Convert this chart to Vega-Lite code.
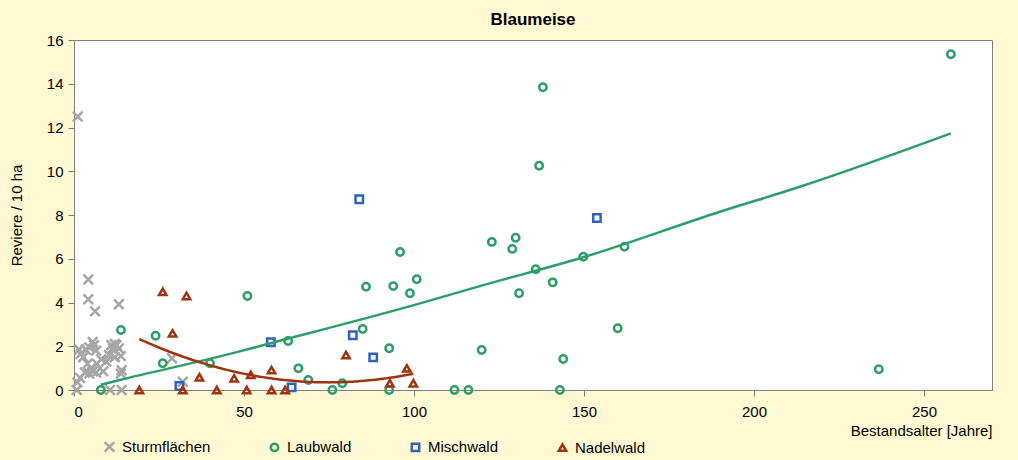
{
  "$schema": "https://vega.github.io/schema/vega-lite/v6.json",
  "autosize": "none",
  "width": 918,
  "height": 350,
  "padding": {"left": 74, "top": 40, "right": 26, "bottom": 70},
  "background": "#FFF9D3",
  "title": {"text": "Blaumeise", "fontSize": 17, "font": "Liberation Sans", "fontWeight": "bold", "color": "#000000", "offset": 4, "anchor": "middle"},
  "config": {
    "view": {"fill": "white", "stroke": "#808080", "strokeWidth": 1},
    "font": "Liberation Sans",
    "axis": {"labelFont": "Liberation Sans", "titleFont": "Liberation Sans", "labelFontSize": 15, "titleFontSize": 15, "titleFontWeight": "normal", "labelColor": "#000", "titleColor": "#000", "domainColor": "#808080", "tickColor": "#808080", "grid": false, "tickSize": 6}
  },
  "datasets": {
    "trend": [
      {"Alter": 7.9, "Reviere": 0.24},
      {"Alter": 13.5, "Reviere": 0.46},
      {"Alter": 45.9, "Reviere": 1.65},
      {"Alter": 54.7, "Reviere": 2.01},
      {"Alter": 101.8, "Reviere": 3.96},
      {"Alter": 119.4, "Reviere": 4.75},
      {"Alter": 150, "Reviere": 6.08},
      {"Alter": 190, "Reviere": 8.15},
      {"Alter": 213.5, "Reviere": 9.29},
      {"Alter": 257.9, "Reviere": 11.73}
    ]
  },
  "data": {"values": [
    {"Typ": "Sturmflächen", "Alter": 1.1, "Reviere": 12.5},
    {"Typ": "Sturmflächen", "Alter": 4.2, "Reviere": 5.05},
    {"Typ": "Sturmflächen", "Alter": 4.2, "Reviere": 4.15},
    {"Typ": "Sturmflächen", "Alter": 6.2, "Reviere": 3.6},
    {"Typ": "Sturmflächen", "Alter": 13.2, "Reviere": 3.92},
    {"Typ": "Sturmflächen", "Alter": 1.5, "Reviere": 1.85},
    {"Typ": "Sturmflächen", "Alter": 2.0, "Reviere": 1.65},
    {"Typ": "Sturmflächen", "Alter": 2.7, "Reviere": 1.5},
    {"Typ": "Sturmflächen", "Alter": 3.5, "Reviere": 1.85},
    {"Typ": "Sturmflächen", "Alter": 4.5, "Reviere": 1.95},
    {"Typ": "Sturmflächen", "Alter": 5.5, "Reviere": 2.2},
    {"Typ": "Sturmflächen", "Alter": 5.9, "Reviere": 2.05},
    {"Typ": "Sturmflächen", "Alter": 6.5, "Reviere": 1.8},
    {"Typ": "Sturmflächen", "Alter": 4.0, "Reviere": 1.2},
    {"Typ": "Sturmflächen", "Alter": 5.0, "Reviere": 1.0},
    {"Typ": "Sturmflächen", "Alter": 6.7, "Reviere": 1.2},
    {"Typ": "Sturmflächen", "Alter": 3.2, "Reviere": 0.8},
    {"Typ": "Sturmflächen", "Alter": 4.5, "Reviere": 0.75},
    {"Typ": "Sturmflächen", "Alter": 5.5, "Reviere": 0.85},
    {"Typ": "Sturmflächen", "Alter": 6.5, "Reviere": 0.8},
    {"Typ": "Sturmflächen", "Alter": 8.0, "Reviere": 1.4},
    {"Typ": "Sturmflächen", "Alter": 8.6, "Reviere": 0.85},
    {"Typ": "Sturmflächen", "Alter": 9.5, "Reviere": 1.3},
    {"Typ": "Sturmflächen", "Alter": 10.3, "Reviere": 1.6},
    {"Typ": "Sturmflächen", "Alter": 11.0, "Reviere": 2.05},
    {"Typ": "Sturmflächen", "Alter": 11.5, "Reviere": 1.9},
    {"Typ": "Sturmflächen", "Alter": 12.0, "Reviere": 2.1},
    {"Typ": "Sturmflächen", "Alter": 12.5, "Reviere": 2.05},
    {"Typ": "Sturmflächen", "Alter": 13.2, "Reviere": 1.9},
    {"Typ": "Sturmflächen", "Alter": 12.0, "Reviere": 1.5},
    {"Typ": "Sturmflächen", "Alter": 13.8, "Reviere": 1.55},
    {"Typ": "Sturmflächen", "Alter": 14.0, "Reviere": 0.9},
    {"Typ": "Sturmflächen", "Alter": 13.8, "Reviere": 0.75},
    {"Typ": "Sturmflächen", "Alter": 1.0, "Reviere": 0.35},
    {"Typ": "Sturmflächen", "Alter": 1.8, "Reviere": 0.55},
    {"Typ": "Sturmflächen", "Alter": 0.8, "Reviere": 0},
    {"Typ": "Sturmflächen", "Alter": 10.6, "Reviere": 0},
    {"Typ": "Sturmflächen", "Alter": 14.0, "Reviere": 0},
    {"Typ": "Sturmflächen", "Alter": 28.8, "Reviere": 1.45},
    {"Typ": "Sturmflächen", "Alter": 32.0, "Reviere": 0.38},
    {"Typ": "Laubwald", "Alter": 7.9, "Reviere": 0},
    {"Typ": "Laubwald", "Alter": 13.8, "Reviere": 2.74},
    {"Typ": "Laubwald", "Alter": 24.0, "Reviere": 2.48},
    {"Typ": "Laubwald", "Alter": 26.1, "Reviere": 1.22},
    {"Typ": "Laubwald", "Alter": 40.0, "Reviere": 1.22},
    {"Typ": "Laubwald", "Alter": 51.0, "Reviere": 4.3},
    {"Typ": "Laubwald", "Alter": 63.0, "Reviere": 2.24},
    {"Typ": "Laubwald", "Alter": 66.0, "Reviere": 0.99},
    {"Typ": "Laubwald", "Alter": 68.9, "Reviere": 0.46},
    {"Typ": "Laubwald", "Alter": 76.0, "Reviere": 0},
    {"Typ": "Laubwald", "Alter": 78.9, "Reviere": 0.31},
    {"Typ": "Laubwald", "Alter": 85.9, "Reviere": 4.72},
    {"Typ": "Laubwald", "Alter": 84.9, "Reviere": 2.79},
    {"Typ": "Laubwald", "Alter": 93.9, "Reviere": 4.75},
    {"Typ": "Laubwald", "Alter": 98.8, "Reviere": 4.42},
    {"Typ": "Laubwald", "Alter": 100.8, "Reviere": 5.06},
    {"Typ": "Laubwald", "Alter": 92.7, "Reviere": 1.91},
    {"Typ": "Laubwald", "Alter": 92.7, "Reviere": 0},
    {"Typ": "Laubwald", "Alter": 95.9, "Reviere": 6.31},
    {"Typ": "Laubwald", "Alter": 137.9, "Reviere": 13.84},
    {"Typ": "Laubwald", "Alter": 136.8, "Reviere": 10.25},
    {"Typ": "Laubwald", "Alter": 122.9, "Reviere": 6.77},
    {"Typ": "Laubwald", "Alter": 129.9, "Reviere": 6.96},
    {"Typ": "Laubwald", "Alter": 128.9, "Reviere": 6.45},
    {"Typ": "Laubwald", "Alter": 135.8, "Reviere": 5.52},
    {"Typ": "Laubwald", "Alter": 149.8, "Reviere": 6.09},
    {"Typ": "Laubwald", "Alter": 161.9, "Reviere": 6.55},
    {"Typ": "Laubwald", "Alter": 140.8, "Reviere": 4.92},
    {"Typ": "Laubwald", "Alter": 130.9, "Reviere": 4.42},
    {"Typ": "Laubwald", "Alter": 119.9, "Reviere": 1.83},
    {"Typ": "Laubwald", "Alter": 159.9, "Reviere": 2.82},
    {"Typ": "Laubwald", "Alter": 143.9, "Reviere": 1.42},
    {"Typ": "Laubwald", "Alter": 111.9, "Reviere": 0},
    {"Typ": "Laubwald", "Alter": 116.0, "Reviere": 0},
    {"Typ": "Laubwald", "Alter": 142.9, "Reviere": 0},
    {"Typ": "Laubwald", "Alter": 257.9, "Reviere": 15.35},
    {"Typ": "Laubwald", "Alter": 236.7, "Reviere": 0.95},
    {"Typ": "Mischwald", "Alter": 31.0, "Reviere": 0.18},
    {"Typ": "Mischwald", "Alter": 57.9, "Reviere": 2.18},
    {"Typ": "Mischwald", "Alter": 64.0, "Reviere": 0.12},
    {"Typ": "Mischwald", "Alter": 82.0, "Reviere": 2.5},
    {"Typ": "Mischwald", "Alter": 88.0, "Reviere": 1.49},
    {"Typ": "Mischwald", "Alter": 83.9, "Reviere": 8.72},
    {"Typ": "Mischwald", "Alter": 153.8, "Reviere": 7.86},
    {"Typ": "Nadelwald", "Alter": 19.2, "Reviere": 0},
    {"Typ": "Nadelwald", "Alter": 26.1, "Reviere": 4.49},
    {"Typ": "Nadelwald", "Alter": 33.1, "Reviere": 4.3},
    {"Typ": "Nadelwald", "Alter": 29.0, "Reviere": 2.59},
    {"Typ": "Nadelwald", "Alter": 32.0, "Reviere": 0},
    {"Typ": "Nadelwald", "Alter": 36.9, "Reviere": 0.58},
    {"Typ": "Nadelwald", "Alter": 42.0, "Reviere": 0},
    {"Typ": "Nadelwald", "Alter": 47.1, "Reviere": 0.53},
    {"Typ": "Nadelwald", "Alter": 50.8, "Reviere": 0},
    {"Typ": "Nadelwald", "Alter": 52.0, "Reviere": 0.69},
    {"Typ": "Nadelwald", "Alter": 58.1, "Reviere": 0.91},
    {"Typ": "Nadelwald", "Alter": 58.1, "Reviere": 0},
    {"Typ": "Nadelwald", "Alter": 62.1, "Reviere": 0},
    {"Typ": "Nadelwald", "Alter": 80.0, "Reviere": 1.6},
    {"Typ": "Nadelwald", "Alter": 92.9, "Reviere": 0.31},
    {"Typ": "Nadelwald", "Alter": 97.9, "Reviere": 0.99},
    {"Typ": "Nadelwald", "Alter": 99.8, "Reviere": 0.31}
  ]},
  "layer": [
    {
      "mark": {"type": "point", "filled": false, "strokeWidth": 2.5, "size": 55, "opacity": 1},
      "encoding": {
        "x": {"field": "Alter", "type": "quantitative", "scale": {"domain": [0, 270], "nice": false, "zero": false}, "axis": {"values": [0, 50, 100, 150, 200, 250], "title": "Bestandsalter [Jahre]", "titleAnchor": "end", "titleAlign": "right", "labelPadding": 8, "titlePadding": 4}},
        "y": {"field": "Reviere", "type": "quantitative", "scale": {"domain": [0, 16], "nice": false}, "axis": {"values": [0, 2, 4, 6, 8, 10, 12, 14, 16], "title": "Reviere / 10 ha", "labelPadding": 5, "titlePadding": 22}},
        "color": {"field": "Typ", "type": "nominal", "scale": {"domain": ["Sturmflächen", "Laubwald", "Mischwald", "Nadelwald"], "range": ["#A6A6A6", "#2E9E68", "#2F62BF", "#A0340F"]}, "legend": {"title": null, "orient": "none", "direction": "horizontal", "legendX": 28, "legendY": 399, "labelFont": "Liberation Sans", "labelFontSize": 15, "labelColor": "#000", "columnPadding": 54, "labelOffset": 5, "symbolStrokeWidth": 2.5, "symbolSize": 55, "padding": 0}},
        "shape": {"field": "Typ", "type": "nominal", "scale": {"domain": ["Sturmflächen", "Laubwald", "Mischwald", "Nadelwald"], "range": ["M-1.3,-1.3L1.3,1.3M1.3,-1.3L-1.3,1.3", "circle", "square", "triangle-up"]}, "legend": null}
      }
    },
    {
      "data": {"name": "trend"},
      "mark": {"type": "line", "color": "#2E9E68", "strokeWidth": 2.5, "interpolate": "monotone"},
      "encoding": {"x": {"field": "Alter", "type": "quantitative"}, "y": {"field": "Reviere", "type": "quantitative"}}
    },
    {
      "transform": [{"filter": "datum.Typ === 'Nadelwald'"}, {"regression": "Reviere", "on": "Alter", "method": "poly", "order": 2}],
      "mark": {"type": "line", "color": "#A0340F", "strokeWidth": 2.5},
      "encoding": {"x": {"field": "Alter", "type": "quantitative"}, "y": {"field": "Reviere", "type": "quantitative"}}
    }
  ]
}
